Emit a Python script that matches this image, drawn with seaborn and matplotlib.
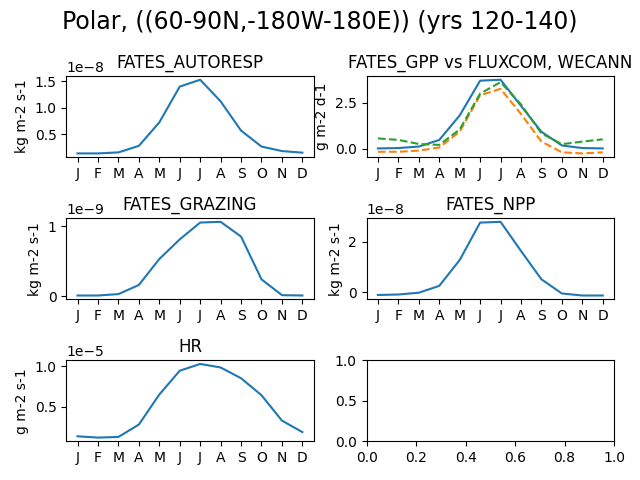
import numpy as np
import pandas as pd
import matplotlib
matplotlib.use('Agg')
import matplotlib.pyplot as plt
import seaborn as sns

months = ['J', 'F', 'M', 'A', 'M', 'J', 'J', 'A', 'S', 'O', 'N', 'D']

# FATES_AUTORESP, kg m-2 s-1
autoresp = [0.146e-8, 0.146e-8, 0.165e-8, 0.287e-8, 0.726e-8, 1.396e-8,
            1.524e-8, 1.12e-8, 0.573e-8, 0.274e-8, 0.19e-8, 0.16e-8]

# FATES_GPP vs FLUXCOM, WECANN, g m-2 d-1
gpp_fates = [0.02, 0.04, 0.12, 0.475, 1.8, 3.68, 3.73, 2.32, 0.92, 0.18, 0.04, 0.02]
gpp_fluxcom = [-0.16, -0.16, -0.1, 0.07, 0.92, 2.89, 3.24, 1.88, 0.39, -0.19, -0.25, -0.19]
gpp_wecann = [0.56, 0.48, 0.26, 0.21, 1.04, 2.98, 3.6, 2.4, 0.83, 0.25, 0.39, 0.51]

# FATES_GRAZING, kg m-2 s-1
grazing = [0.01e-9, 0.01e-9, 0.03e-9, 0.16e-9, 0.53e-9, 0.81e-9,
           1.05e-9, 1.06e-9, 0.85e-9, 0.24e-9, 0.015e-9, 0.01e-9]

# FATES_NPP, kg m-2 s-1
npp = [-0.1e-8, -0.08e-8, -0.01e-8, 0.26e-8, 1.28e-8, 2.76e-8,
       2.79e-8, 1.64e-8, 0.52e-8, -0.04e-8, -0.12e-8, -0.12e-8]

# HR, g m-2 s-1
hr = [0.133e-5, 0.117e-5, 0.125e-5, 0.278e-5, 0.649e-5, 0.944e-5,
      1.028e-5, 0.984e-5, 0.851e-5, 0.641e-5, 0.327e-5, 0.185e-5]

x = np.arange(12)

fig, axs = plt.subplots(3, 2, figsize=(6.4, 4.8))
fig.suptitle('Polar, ((60-90N,-180W-180E)) (yrs 120-140)', fontsize=17)

panels = [
    (axs[0, 0], 'FATES_AUTORESP', 'kg m-2 s-1', autoresp),
    (axs[1, 0], 'FATES_GRAZING', 'kg m-2 s-1', grazing),
    (axs[1, 1], 'FATES_NPP', 'kg m-2 s-1', npp),
    (axs[2, 0], 'HR', 'g m-2 s-1', hr),
]

for ax, title, unit, vals in panels:
    sns.lineplot(x=x, y=vals, ax=ax, color='C0')
    ax.set_title(title)
    ax.set_ylabel(unit)
    ax.set_xticks(x)
    ax.set_xticklabels(months)

ax = axs[0, 1]
sns.lineplot(x=x, y=gpp_fates, ax=ax, color='C0')
sns.lineplot(x=x, y=gpp_fluxcom, ax=ax, color='C1', linestyle='--')
sns.lineplot(x=x, y=gpp_wecann, ax=ax, color='C2', linestyle='--')
ax.set_title('FATES_GPP vs FLUXCOM, WECANN')
ax.set_ylabel('g m-2 d-1')
ax.set_xticks(x)
ax.set_xticklabels(months)

plt.tight_layout()
plt.savefig('out.png', dpi=100)
